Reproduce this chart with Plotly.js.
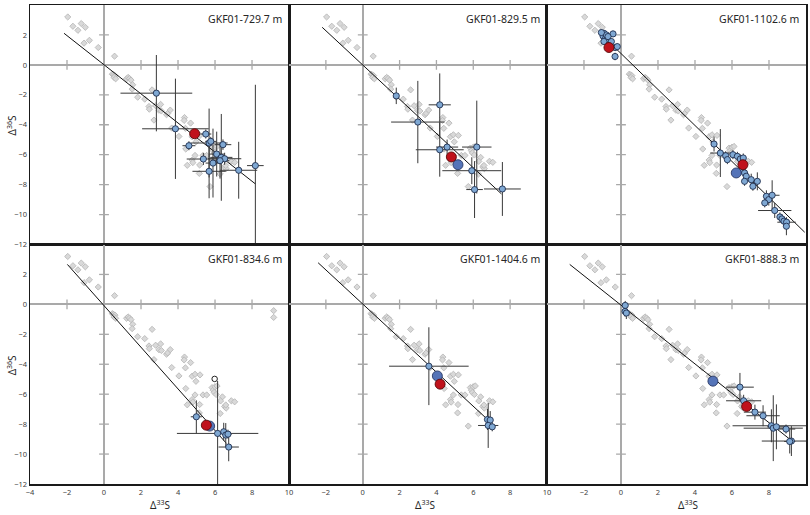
<!DOCTYPE html>
<html><head><meta charset="utf-8">
<script src="https://cdn.plot.ly/plotly-3.0.1.min.js"></script>
<style>html,body{margin:0;padding:0;background:#fff}#chart{width:810px;height:515px}</style>
</head><body><div id="chart"></div>
<script>
// Reference (gray diamond) data, shared by all panels
const refX=[-1.96,-1.68,-1.23,-1.41,-1.01,-1.08,-0.79,-0.31,0.57,
0.45,0.52,0.59,0.54,0.63,
1.22,1.30,1.38,1.46,1.55,1.52,1.82,2.20,2.60,
2.43,2.45,2.79,3.06,2.97,3.10,2.70,3.38,3.44,3.58,3.66,
4.35,4.33,4.40,4.68,4.05,4.76,4.92,5.19,4.42,4.97,
4.76,4.80,4.50,5.17,5.15,4.92,5.35,5.55,
5.84,5.90,6.00,6.11,5.95,6.06,6.40,6.30,6.52,6.60,6.58,6.88,7.06,6.28,5.73];
const refY=[3.20,2.58,2.76,2.31,2.51,1.45,1.64,1.16,0.58,
-0.62,-0.67,-0.72,-0.84,-0.93,
-0.93,-0.84,-0.91,-1.02,-1.33,-1.62,-2.16,-2.29,-1.67,
-2.78,-2.96,-2.73,-2.64,-3.03,-3.08,-3.69,-3.33,-3.24,-3.02,-4.22,
-3.52,-3.71,-4.24,-3.89,-4.78,-4.80,-4.67,-4.71,-5.62,-5.14,
-6.36,-6.53,-6.71,-6.69,-7.25,-6.05,-6.05,-6.05,
-5.56,-5.73,-5.50,-5.45,-5.88,-6.02,-6.18,-6.45,-6.82,-6.93,-6.72,-6.44,-6.51,-7.29,-8.13];

const panelNames=["GKF01-729.7 m","GKF01-829.5 m","GKF01-1102.6 m","GKF01-834.6 m","GKF01-1404.6 m","GKF01-888.3 m"];

// Sample analyses (blue circles with error bars)
const s1X=[2.83,3.86,4.59,5.50,5.68,5.77,6.43,6.09,6.34,6.52,6.27,5.37,5.89,5.68,7.28,8.18];
const s1Y=[-1.89,-4.27,-5.40,-4.62,-5.22,-5.11,-5.33,-5.96,-6.18,-6.27,-6.40,-6.29,-6.56,-7.11,-7.04,-6.73];
const s1EX=[1.94,1.80,0.35,0.30,1.00,0.30,0.45,0.40,0.60,0.90,0.50,0.90,0.40,0.90,1.00,0.45];
const s1EY=[2.55,3.35,0.30,0.30,2.30,0.30,0.35,1.50,2.90,0.40,1.20,0.40,2.30,1.80,1.90,5.40];

const s2X=[1.82,4.18,2.99,4.18,4.58,6.19,5.92,6.07,7.58];
const s2Y=[-2.07,-2.67,-3.82,-5.67,-5.49,-5.49,-7.07,-8.33,-8.29];
const s2EX=[0.15,0.60,1.45,1.30,0.60,0.80,1.60,0.45,1.00];
const s2EY=[0.55,2.10,2.75,1.80,0.50,3.10,0.90,1.90,1.80];

const s3X=[-0.92,-0.97,-0.83,-0.70,-0.92,-0.61,-0.43,-0.31,-0.20,-0.32,-0.79,-1.06,-0.70,-0.52,
5.03,5.37,5.66,5.75,6.05,6.29,6.45,6.61,6.54,6.68,6.77,6.68,7.04,7.37,7.13,7.86,7.99,8.17,7.77,8.31,8.59,8.70,8.81,8.95,8.94];
const s3Y=[2.11,1.93,1.78,1.62,1.56,1.38,2.07,1.16,1.22,0.56,2.00,2.16,1.89,1.56,
-5.29,-5.89,-6.07,-6.33,-6.00,-6.11,-6.29,-6.22,-7.00,-7.22,-7.44,-7.78,-7.67,-7.78,-8.11,-8.78,-9.00,-8.71,-9.22,-9.73,-10.16,-10.29,-10.44,-10.51,-10.78];
const s3EX=[0.10,0.10,0.10,0.10,0.10,0.10,0.10,0.10,0.10,0.10,0.10,0.10,0.10,0.10,
0.15,0.55,0.15,0.15,0.15,0.15,0.15,0.15,0.15,0.15,0.15,0.15,0.15,0.15,0.15,0.15,0.15,0.40,0.15,0.90,0.15,0.15,0.15,0.50,0.15];
const s3EY=[0.20,0.20,0.20,0.20,0.20,0.20,0.20,0.20,0.20,0.25,0.20,0.20,0.20,0.20,
0.50,1.60,0.30,0.30,0.30,0.30,0.30,0.30,0.30,0.30,0.30,0.30,0.40,0.60,0.30,0.40,0.40,1.00,0.30,0.50,0.30,0.30,0.30,0.30,0.60];

const s4X=[4.99,6.14,6.47,6.58,6.70,6.74];
const s4Y=[-7.51,-8.62,-8.51,-8.73,-8.67,-9.53];
const s4EX=[0.30,2.20,0.15,0.15,0.20,0.55];
const s4EY=[1.10,3.50,0.60,0.80,0.30,0.95];
const s4OpenX=[5.98]; const s4OpenY=[-4.98];
const s4ExtraRefX=[9.17,9.17]; const s4ExtraRefY=[-0.42,-0.87];

const s5X=[3.59,6.77,6.92,6.81,7.03];
const s5Y=[-4.13,-7.69,-7.73,-8.09,-8.18];
const s5EX=[2.16,0.15,0.15,0.55,0.15];
const s5EY=[2.60,0.70,0.60,1.50,0.30];

const s6X=[0.23,0.22,0.29,6.43,6.63,7.24,7.68,8.13,8.23,8.40,8.92,9.21,9.12];
const s6Y=[-0.07,-0.47,-0.58,-5.53,-6.44,-7.20,-7.44,-8.11,-8.27,-8.18,-8.33,-9.13,-9.16];
const s6EX=[0.10,0.10,0.10,0.75,0.95,0.60,0.90,2.10,1.60,0.50,0.50,1.60,0.30];
const s6EY=[0.30,0.35,0.40,0.95,0.40,0.50,0.70,1.10,2.20,1.50,0.30,1.00,0.80];

// Large blue and red values
const bigBlueX=[[],[5.17],[6.23],[5.71],[4.05],[4.97]];
const bigBlueY=[[],[-6.67],[-7.22],[-8.13],[-4.78],[-5.13]];
const redX=[[4.90],[4.81],[-0.65,6.59],[5.53],[4.20],[6.79]];
const redY=[[-4.60],[-6.15],[1.16,-6.67],[-8.07],[-5.33],[-6.82]];

// Fit-line end points
const fitX=[[-2.16,8.18],[-2.20,7.53],[-0.34,9.93],[-1.98,6.62],[-2.42,6.81],[-2.77,9.30]];
const fitY=[[2.11,-7.95],[2.51,-8.62],[1.17,-11.18],[2.67,-9.29],[2.78,-7.73],[2.67,-9.18]];

// Axis ticks
const xTicksFull=[-4,-2,0,2,4,6,8,10];
const xTicksShort=[-2,0,2,4,6,8,10];
const yTicksTop=[-12,-10,-8,-6,-4,-2,0,2,4];
const yTicksBottom=[-12,-10,-8,-6,-4,-2,0,2];
const axisTickX=[-2,2,4,6,8];
const axisTickY=[-10,-8,-6,-4,-2,2];

const samples=[[s1X,s1Y,s1EX,s1EY],[s2X,s2Y,s2EX,s2EY],[s3X,s3Y,s3EX,s3EY],[s4X,s4Y,s4EX,s4EY],[s5X,s5Y,s5EX,s5EY],[s6X,s6Y,s6EX,s6EY]];

const traces=[]; const layout={
  width:810,height:515,margin:{l:30,r:4,t:5,b:31},
  paper_bgcolor:'#fff',plot_bgcolor:'#fff',showlegend:false,
  font:{family:'"Noto Sans", "Liberation Sans", sans-serif',color:'#262626'},
  annotations:[]
};
const xDom=[[0,0.3338],[0.3338,0.6662],[0.6662,1]];
const yDom=[[0.5,1],[0,0.5]];
const errCol='#383838';
const diamond={symbol:'diamond',size:4.8,color:'#d9d9d9',line:{color:'#b4b4b4',width:0.8}};

for(let i=0;i<6;i++){
  const row=i<3?0:1, col=i%3;
  const xa='x'+(i?i+1:''), ya='y'+(i?i+1:'');
  const xk='xaxis'+(i?i+1:''), yk='yaxis'+(i?i+1:'');
  layout[xk]={domain:xDom[col],anchor:ya,range:[-4,10],fixedrange:true,
    showgrid:false,zeroline:true,zerolinecolor:'#a9a9a9',zerolinewidth:2,
    showline:true,linecolor:'#1a1a1a',linewidth:1.5,mirror:true,ticks:'',
    tickmode:'array',tickvals:(col===0?xTicksFull:xTicksShort),
    showticklabels:row===1,tickfont:{size:7.5,color:'#404040'}};
  layout[yk]={domain:yDom[row],anchor:xa,range:[-12,4],fixedrange:true,
    showgrid:false,zeroline:true,zerolinecolor:'#a9a9a9',zerolinewidth:2,
    showline:true,linecolor:'#1a1a1a',linewidth:1.5,mirror:true,ticks:'',
    tickmode:'array',tickvals:(row===0?yTicksTop:yTicksBottom),
    showticklabels:col===0,tickfont:{size:7.5,color:'#404040'}};
  traces.push({type:'scatter',mode:'markers',xaxis:xa,yaxis:ya,hoverinfo:'skip',
    x:axisTickX,y:axisTickX.map(()=>0),
    marker:{symbol:'line-ns',size:7,line:{color:'#a9a9a9',width:1.3}}});
  traces.push({type:'scatter',mode:'markers',xaxis:xa,yaxis:ya,hoverinfo:'skip',
    x:axisTickY.map(()=>0),y:axisTickY,
    marker:{symbol:'line-ew',size:7,line:{color:'#a9a9a9',width:1.3}}});
  traces.push({type:'scatter',mode:'markers',xaxis:xa,yaxis:ya,x:refX,y:refY,marker:diamond});
  if(i===3){
    traces.push({type:'scatter',mode:'markers',xaxis:xa,yaxis:ya,x:s4ExtraRefX,y:s4ExtraRefY,marker:diamond});
  }
  traces.push({type:'scatter',mode:'lines',xaxis:xa,yaxis:ya,x:fitX[i],y:fitY[i],
    line:{color:'#111',width:1}});
  const s=samples[i];
  traces.push({type:'scatter',mode:'markers',xaxis:xa,yaxis:ya,x:s[0],y:s[1],
    error_x:{type:'data',array:s[2],visible:true,color:errCol,thickness:1,width:0},
    error_y:{type:'data',array:s[3],visible:true,color:errCol,thickness:1,width:0},
    marker:{symbol:'circle',size:6.2,color:'#7fa8d3',line:{color:'#1f2f4f',width:0.9}}});
  if(i===3){
    traces.push({type:'scatter',mode:'markers',xaxis:xa,yaxis:ya,x:s4OpenX,y:s4OpenY,
      marker:{symbol:'circle',size:5.5,color:'#ffffff',line:{color:'#222',width:1}}});
  }
  traces.push({type:'scatter',mode:'markers',xaxis:xa,yaxis:ya,x:bigBlueX[i],y:bigBlueY[i],
    marker:{symbol:'circle',size:10,color:'#5574b8',line:{color:'#2a3a66',width:0.9}}});
  traces.push({type:'scatter',mode:'markers',xaxis:xa,yaxis:ya,x:redX[i],y:redY[i],
    marker:{symbol:'circle',size:10,color:'#c0121c',line:{color:'#5a0a0a',width:0.9}}});
  layout.annotations.push({xref:xa+' domain',yref:ya+' domain',x:0.98,y:0.94,
    xanchor:'right',yanchor:'middle',showarrow:false,text:panelNames[i],
    font:{size:10.5,color:'#262626'}});
}
const yTitleY=[0.749,0.248];
yTitleY.forEach(v=>layout.annotations.push({xref:'paper',yref:'paper',x:-0.023,y:v,
  xanchor:'center',yanchor:'middle',showarrow:false,textangle:-90,
  text:'Δ<sup>36</sup>S',font:{size:10,color:'#262626'}}));
const xTitleX=[0.1675,0.509,0.848];
xTitleX.forEach(v=>layout.annotations.push({xref:'paper',yref:'paper',x:v,y:-0.044,
  xanchor:'center',yanchor:'middle',showarrow:false,
  text:'Δ<sup>33</sup>S',font:{size:10,color:'#262626'}}));

Plotly.newPlot('chart',traces,layout,{staticPlot:true,displayModeBar:false});
</script></body></html>
